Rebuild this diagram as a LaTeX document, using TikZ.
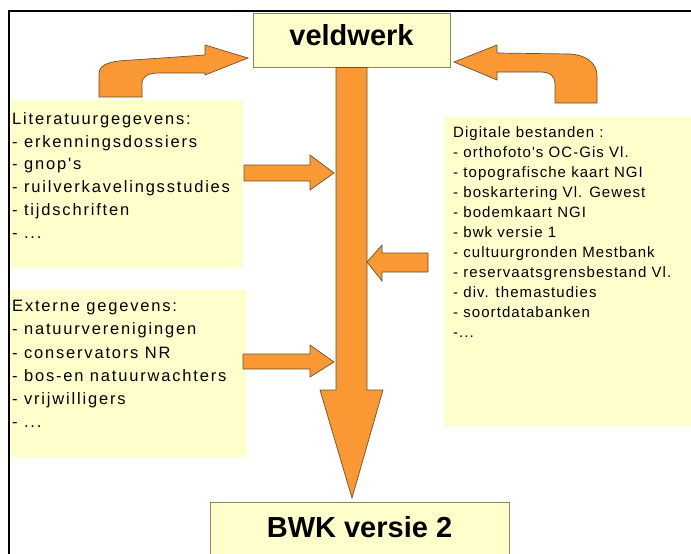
\documentclass[tikz,border=0pt]{standalone}
\usepackage{fontspec}
\setmainfont{Liberation Sans}
\newfontfamily\listfont[LetterSpace=11]{Liberation Sans}
\newfontfamily\digifont[LetterSpace=7]{Liberation Sans}
\usetikzlibrary{calc}
\definecolor{arroworange}{RGB}{250,152,51}
\definecolor{arrowedge}{RGB}{105,82,48}
\definecolor{notefill}{RGB}{255,255,204}
\definecolor{titleedge}{RGB}{140,132,100}

\begin{document}
\begin{tikzpicture}[x=1pt,y=-1pt,
  flow/.style={fill=arroworange, draw=arrowedge, line width=0.7pt, line join=miter},
  titlebox/.style={draw=titleedge, line width=1pt, fill=notefill, inner sep=0pt,
    font=\bfseries\fontsize{29}{34}\selectfont},
  notebox/.style={fill=notefill, inner sep=0pt, anchor=north west},
  notetext/.style={inner sep=0pt, anchor=north west, align=left}]
\useasboundingbox (0,0) rectangle (691,554);
\clip (0,0) rectangle (691,554);

% outer frame (left and top edges)
\draw[line width=2pt] (9,560) -- (9,11) -- (691,11);

% pale note panels
\node[notebox, minimum width=233pt, minimum height=168pt] (litbox) at (10,100) {};
\node[notebox, minimum width=236pt, minimum height=167pt] (extbox) at (10,290) {};
\node[notebox, minimum width=247pt, minimum height=309pt] (digbox) at (444,117) {};

% panel texts
\node[notetext, font=\listfont\fontsize{16.5}{22.8}\selectfont] (littext) at (12,112.2)
  {Literatuurgegevens:\\- erkenningsdossiers\\- gnop's\\- ruilverkavelingsstudies\\- tijdschriften\\- ...};
\node[notetext, font=\listfont\fontsize{16.5}{23.2}\selectfont] (exttext) at (12,300.2)
  {Externe gegevens:\\- natuurverenigingen\\- conservators NR\\- bos-en natuurwachters\\- vrijwilligers\\- ...};
\node[notetext, font=\digifont\fontsize{15}{20}\selectfont] (digtext) at (453,126.3)
  {Digitale bestanden :\\- orthofoto's OC-Gis Vl.\\- topografische kaart NGI\\- boskartering Vl. Gewest\\- bodemkaart NGI\\- bwk versie 1\\- cultuurgronden Mestbank\\- reservaatsgrensbestand Vl.\\- div. themastudies\\- soortdatabanken\\-...};

% title boxes
\node[titlebox, minimum width=197pt, minimum height=54pt, text height=21pt, text depth=11pt] (veld) at (351.5,40) {veldwerk};
\node[titlebox, minimum width=299pt, minimum height=70pt, text height=21pt, text depth=21pt] (bwk) at (359.5,537) {BWK versie 2};

% main downward arrow from veldwerk to BWK versie 2
\coordinate (mtip) at (352,498);
\draw[flow] ($(veld.south)+(-15.5,0)$) -- (336,390) -- (320,390) -- (mtip)
  -- (383,390) -- (367,390) -- ($(veld.south)+(15.5,0)$) -- cycle;

% feeding arrows into the main arrow
\draw[flow] (244,165) -- (310,165) -- (310,155) -- (334,173) -- (310,190) -- (310,181) -- (244,181) -- cycle;
\draw[flow] (243,354) -- (310,354) -- (310,345) -- (334,362) -- (310,377) -- (310,369) -- (243,369) -- cycle;
\draw[flow] (428,253) -- (382,253) -- (382,245) -- (367,262) -- (382,281) -- (382,272) -- (428,272) -- cycle;

% curved return arrows towards veldwerk
\draw[flow] (99,97) -- (99,74) .. controls (99,62) and (115,61) .. (133,60) -- (205,55) -- (205,45)
  -- (248,58) -- (205,75) -- (205,73) -- (160,73) .. controls (148,73) and (142,76) .. (142,84) -- (142,97) -- cycle;
\draw[flow] (597,103) -- (597,76) .. controls (597,62) and (585,55) .. (570,54) -- (497,53) -- (497,45)
  -- (454,62) -- (497,80) -- (497,72) -- (540,72) .. controls (550,72) and (555,76) .. (555,84) -- (555,103) -- cycle;
\end{tikzpicture}
\end{document}
